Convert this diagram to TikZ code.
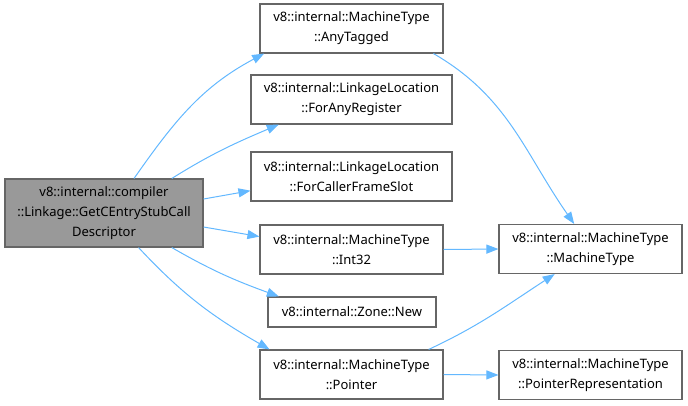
\documentclass[tikz,border=0pt]{standalone}
\usepackage{fontspec}
\setmainfont{Noto Sans}
\usepackage{tikz}
\usepackage{xcolor}
\usetikzlibrary{arrows.meta}
\definecolor{colEdge}{RGB}{99,184,255}
\definecolor{colBorder}{RGB}{102,102,102}
\definecolor{colMain}{RGB}{153,153,153}

\begin{document}
\begin{tikzpicture}[
  x=1pt, y=1pt,
  font=\fontsize{13}{20}\selectfont,
  arr/.style={-{Triangle[length=12pt, width=9pt]}, colEdge, line width=1pt},
  fn/.style={draw=colBorder, line width=1.1pt, fill=white, minimum height=49pt,
             inner sep=0pt, align=center},
  root/.style={fn, fill=colMain, minimum height=68pt},
]
\useasboundingbox (0,0) rectangle (688,-405);

% calling function
\node[root, minimum width=198pt] (main) at (104,-213)
  {v8::internal::compiler\\::Linkage::GetCEntryStubCall\\Descriptor};

% callees, first column
\node[fn, minimum width=183pt] (anytagged) at (351.5,-28.5)
  {v8::internal::MachineType\\::AnyTagged};
\node[fn, minimum width=201pt] (anyreg) at (351.5,-99.5)
  {v8::internal::LinkageLocation\\::ForAnyRegister};
\node[fn, minimum width=201pt] (callerslot) at (351.5,-176.5)
  {v8::internal::LinkageLocation\\::ForCallerFrameSlot};
\node[fn, minimum width=183pt] (int32) at (351.5,-249.5)
  {v8::internal::MachineType\\::Int32};
\node[fn, minimum width=168pt, minimum height=30pt] (zonenew) at (352,-312)
  {v8::internal::Zone::New};
\node[fn, minimum width=183pt] (pointer) at (351.5,-374.5)
  {v8::internal::MachineType\\::Pointer};

% second column
\node[fn, minimum width=183pt] (mtype) at (590.5,-249)
  {v8::internal::MachineType\\::MachineType};
\node[fn, minimum width=183pt] (ptrrep) at (590.5,-375)
  {v8::internal::MachineType\\::PointerRepresentation};

% calls from the root
\draw[arr] (main.49) to[out=55, in=208] (anytagged.196);
\draw[arr] (main.27) to[out=32, in=203] (anyreg.199);
\draw[arr] (main.8) -- (callerslot.188);
\draw[arr] (main.-8) -- (int32.172);
\draw[arr] (main.-27) to[out=-30, in=160] (zonenew.168);
\draw[arr] (main.-45) to[out=-47, in=150] (pointer.163);

% calls into the constructor
\draw[arr] (anytagged.-17) to[out=-30, in=125] (mtype.123);
\draw[arr] (int32.east) -- (mtype.west);
\draw[arr] (pointer.18) to[out=25, in=213] (mtype.215);
\draw[arr] (pointer.east) -- (ptrrep.west);

\end{tikzpicture}
\end{document}
